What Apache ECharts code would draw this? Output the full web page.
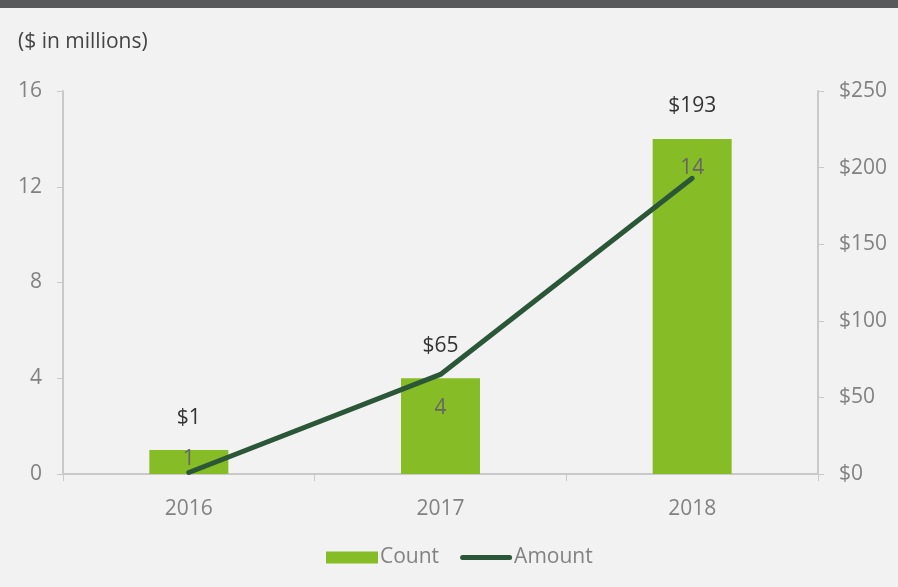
<!DOCTYPE html>
<html>
<head>
<meta charset="utf-8">
<script src="https://cdn.jsdelivr.net/npm/echarts@6/dist/echarts.min.js"></script>
<style>
  html, body { margin: 0; padding: 0; background: #f2f2f2; }
  #chart { width: 898px; height: 587px; }
</style>
</head>
<body>
<div id="chart"></div>
<script>
// data
var years = ['2016', '2017', '2018'];
var counts = [1, 4, 14];
var amounts = [1, 65, 193];

var font = '"Open Sans", "DejaVu Sans", sans-serif';
var gray = '#828282';
var axisGray = '#c9c9c9';

var myChart = echarts.init(document.getElementById('chart'));

var option = {
    backgroundColor: '#f2f2f2',
    textStyle: { fontFamily: font },
    graphic: [
        { type: 'rect', left: 0, top: 0, shape: { width: 898, height: 8 }, style: { fill: '#58595b' } },
        { type: 'text', left: 18, top: 32, style: { text: '($ in millions)', fill: '#444', font: '21px ' + font } }
    ],
    legend: {
        bottom: 14,
        left: 321,
        itemWidth: 52,
        itemHeight: 12,
        itemGap: 21,
        textStyle: { color: gray, fontSize: 21, padding: [0, 0, 0, -3] },
        data: [
            { name: 'Count', icon: 'rect' },
            { name: 'Amount', icon: 'path://M2.5,0 L49.5,0 A2.5,2.5 0 0 1 49.5,5 L2.5,5 A2.5,2.5 0 0 1 2.5,0 Z' }
        ]
    },
    grid: { left: 63, right: 80, top: 91, bottom: 113 },
    xAxis: {
        type: 'category',
        data: years,
        axisLine: { lineStyle: { color: axisGray, width: 2 } },
        axisTick: { show: true, length: 7, lineStyle: { color: axisGray, width: 1 } },
        axisLabel: { color: gray, fontSize: 21, margin: 25 }
    },
    yAxis: [
        {
            type: 'value', min: 0, max: 16, interval: 4,
            axisLine: { show: true, lineStyle: { color: axisGray, width: 2 } },
            axisTick: { show: true, length: 6, lineStyle: { color: axisGray } },
            splitLine: { show: false },
            axisLabel: { color: gray, fontSize: 21, margin: 21 }
        },
        {
            type: 'value', min: 0, max: 250, interval: 50, position: 'right',
            axisLine: { show: true, lineStyle: { color: axisGray, width: 2 } },
            axisTick: { show: true, length: 6, lineStyle: { color: axisGray } },
            splitLine: { show: false },
            axisLabel: { color: gray, fontSize: 21, margin: 21, formatter: '${value}' }
        }
    ],
    series: [
        {
            name: 'Count',
            type: 'bar',
            barWidth: 79,
            itemStyle: { color: '#86bc25' },
            data: counts.map(function (v) {
                return {
                    value: v,
                    label: v < 2 ? { position: 'inside', offset: [0, -3] } : { position: 'insideTop', distance: 19 }
                };
            }),
            label: { show: true, color: '#666', fontSize: 21 },
            z: 2
        },
        {
            name: 'Amount',
            type: 'line',
            yAxisIndex: 1,
            data: amounts,
            symbol: 'circle',
            symbolSize: 0,
            showSymbol: true,
            lineStyle: { color: '#2b5637', width: 5, cap: 'round', join: 'round' },
            itemStyle: { color: '#2b5637' },
            label: {
                show: true, position: 'top', distance: 0,
                color: '#333', fontSize: 21,
                formatter: function (p) { return '$' + p.value; }
            },
            z: 3
        }
    ]
};

myChart.setOption(option);

// place amount labels a fixed distance above each bar top
var lineData = amounts.map(function (v, i) {
    var barTop = myChart.convertToPixel({ yAxisIndex: 0 }, counts[i]);
    var pt = myChart.convertToPixel({ yAxisIndex: 1 }, v);
    var target = barTop - 36;
    return { value: v, label: { offset: [0, target - (pt - 14)] } };
});
myChart.setOption({ series: [{}, { data: lineData }] });
</script>
</body>
</html>
